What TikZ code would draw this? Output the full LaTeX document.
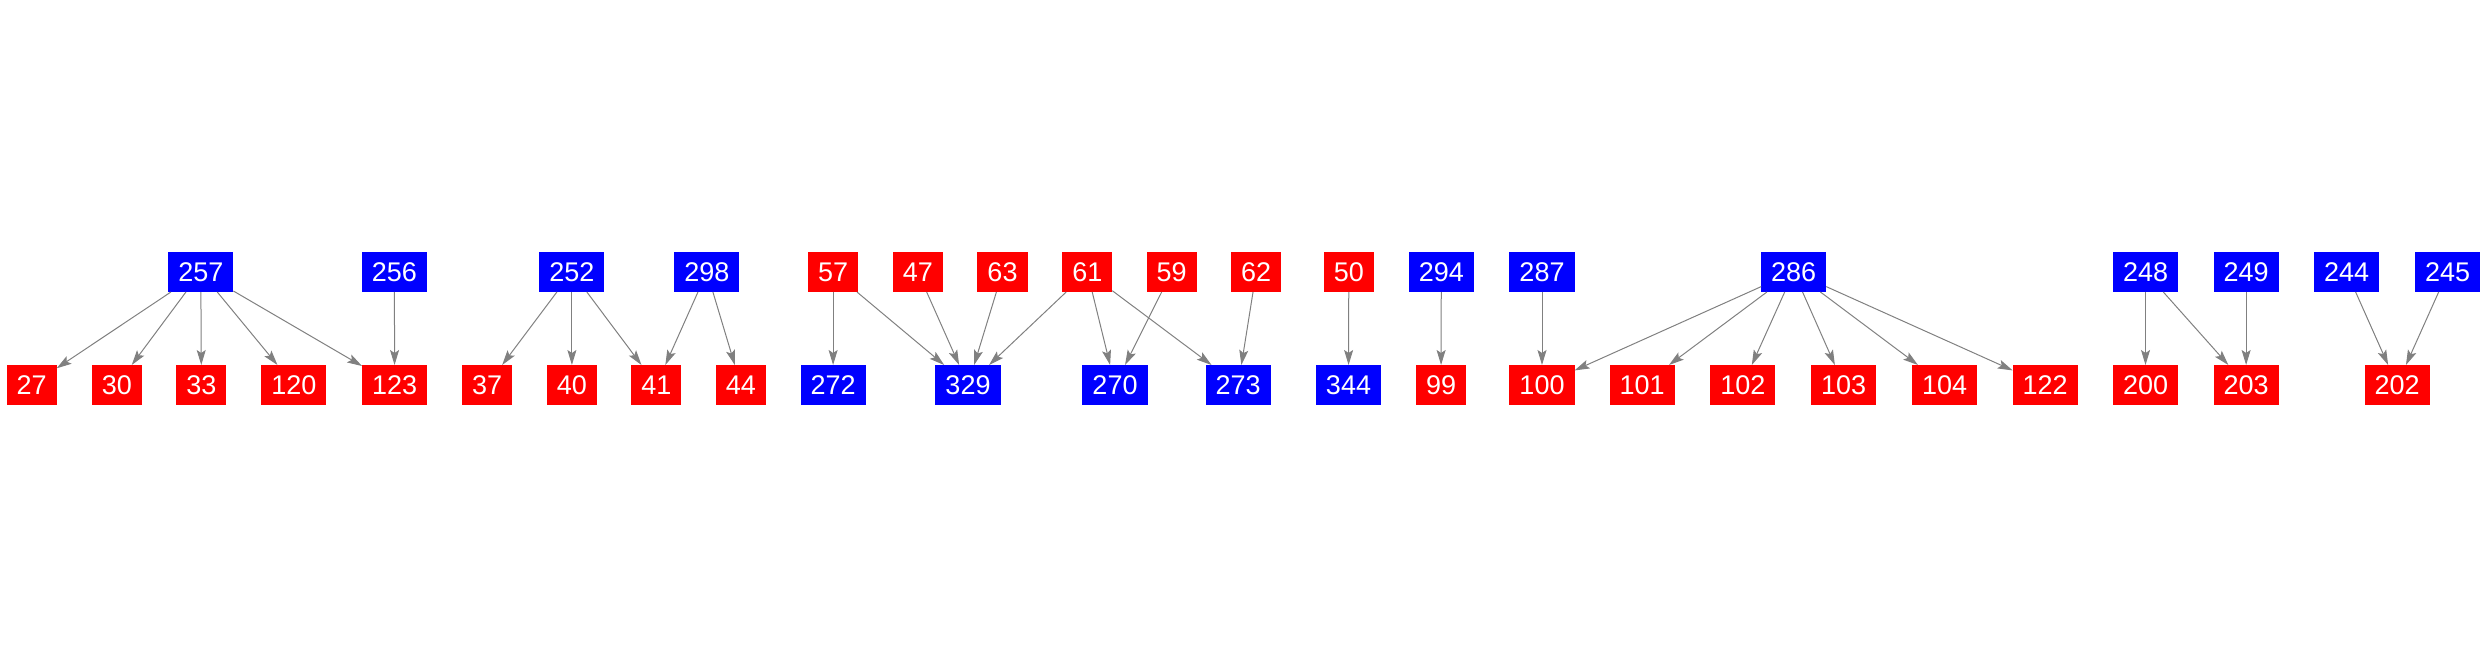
\documentclass[tikz,border=0pt]{standalone}
\usepackage{fontspec}
\setmainfont{Liberation Sans}
\usetikzlibrary{arrows.meta}
\definecolor{edgegray}{HTML}{808080}
\definecolor{nblue}{HTML}{0000FF}
\definecolor{nred}{HTML}{FF0000}
\tikzset{
  nbox/.style={rectangle, inner xsep=10pt, inner ysep=0pt, minimum height=40pt,
    text=white, font=\fontsize{27}{27}\selectfont, anchor=center, outer sep=0pt},
  bn/.style={nbox, fill=nblue},
  rn/.style={nbox, fill=nred},
  edge/.style={draw=edgegray, line width=1pt, -{Stealth[length=15pt,width=9pt,inset=3pt]}}
}
\begin{document}
\begin{tikzpicture}[x=1pt,y=-1pt]
\useasboundingbox (0,0) rectangle (2488,656);
% top row y=272, bottom row y=385
\node[bn] (n257) at (200.8,272) {257};
\node[bn] (n256) at (394.4,272) {256};
\node[bn] (n252) at (571.9,272) {252};
\node[bn] (n298) at (706.9,272) {298};
\node[rn] (n57) at (833.1,272) {57};
\node[rn] (n47) at (917.8,272) {47};
\node[rn] (n63) at (1002.5,272) {63};
\node[rn] (n61) at (1087.3,272) {61};
\node[rn] (n59) at (1171.7,272) {59};
\node[rn] (n62) at (1256.2,272) {62};
\node[rn] (n50) at (1348.8,272) {50};
\node[bn] (n294) at (1441.3,272) {294};
\node[bn] (n287) at (1542,272) {287};
\node[bn] (n286) at (1793.7,272) {286};
\node[bn] (n248) at (2145.5,272) {248};
\node[bn] (n249) at (2246.1,272) {249};
\node[bn] (n244) at (2346.7,272) {244};
\node[bn] (n245) at (2447.6,272) {245};
% bottom row
\node[rn] (n27) at (31.6,385) {27};
\node[rn] (n30) at (116.9,385) {30};
\node[rn] (n33) at (201.4,385) {33};
\node[rn] (n120) at (293.9,385) {120};
\node[rn] (n123) at (394.6,385) {123};
\node[rn] (n37) at (487.2,385) {37};
\node[rn] (n40) at (571.9,385) {40};
\node[rn] (n41) at (656.4,385) {41};
\node[rn] (n44) at (740.8,385) {44};
\node[bn] (n272) at (833.1,385) {272};
\node[bn] (n329) at (968,385) {329};
\node[bn] (n270) at (1115,385) {270};
\node[bn] (n273) at (1238.2,385) {273};
\node[bn] (n344) at (1348.5,385) {344};
\node[rn] (n99) at (1441,385) {99};
\node[rn] (n100) at (1542,385) {100};
\node[rn] (n101) at (1642.2,385) {101};
\node[rn] (n102) at (1742.8,385) {102};
\node[rn] (n103) at (1843.7,385) {103};
\node[rn] (n104) at (1944.6,385) {104};
\node[rn] (n122) at (2045.2,385) {122};
\node[rn] (n200) at (2145.5,385) {200};
\node[rn] (n203) at (2246.1,385) {203};
\node[rn] (n202) at (2397,385) {202};
% edges
\foreach \t in {27,30,33,120,123} \draw[edge] (n257) -- (n\t);
\draw[edge] (n256) -- (n123);
\foreach \t in {37,40,41} \draw[edge] (n252) -- (n\t);
\foreach \t in {41,44} \draw[edge] (n298) -- (n\t);
\draw[edge] (n57) -- (n272);
\draw[edge] (n57) -- (n329);
\draw[edge] (n47) -- (n329);
\draw[edge] (n63) -- (n329);
\draw[edge] (n61) -- (n329);
\draw[edge] (n61) -- (n270);
\draw[edge] (n59) -- (n270);
\draw[edge] (n61) -- (n273);
\draw[edge] (n62) -- (n273);
\draw[edge] (n50) -- (n344);
\draw[edge] (n294) -- (n99);
\draw[edge] (n287) -- (n100);
\foreach \t in {100,101,102,103,104,122} \draw[edge] (n286) -- (n\t);
\draw[edge] (n248) -- (n200);
\draw[edge] (n248) -- (n203);
\draw[edge] (n249) -- (n203);
\draw[edge] (n244) -- (n202);
\draw[edge] (n245) -- (n202);
\end{tikzpicture}
\end{document}
